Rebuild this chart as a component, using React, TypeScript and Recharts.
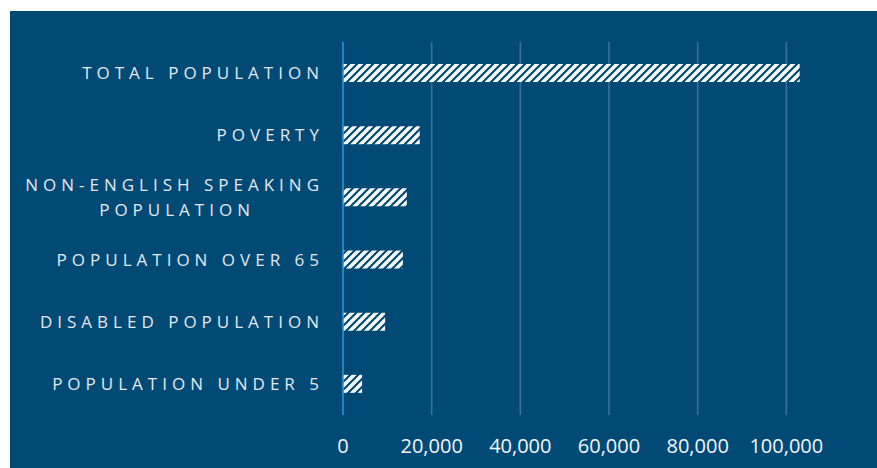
import { BarChart, Bar, XAxis, YAxis, CartesianGrid } from "recharts";

const categories = [
  "TOTAL POPULATION",
  "POVERTY",
  "NON-ENGLISH SPEAKING\nPOPULATION",
  "POPULATION OVER 65",
  "DISABLED POPULATION",
  "POPULATION UNDER 5",
];
const counts = [103000, 17300, 14400, 13500, 9500, 4300];
const xTicks = [0, 20000, 40000, 60000, 80000, 100000];
const xMax = 120000;

const data = categories.map((name, i) => ({ name, count: counts[i] }));

const PANEL = "#004a75";
const LABEL_FONT = "'Open Sans', sans-serif";
const LABEL_SIZE = 17;
const SPACING = 5;

let ctx: CanvasRenderingContext2D | null = null;
function textWidth(s: string) {
  if (!ctx) ctx = document.createElement("canvas").getContext("2d");
  if (!ctx) return s.length * 10;
  ctx.font = `${LABEL_SIZE}px ${LABEL_FONT}`;
  return ctx.measureText(s).width + SPACING * (s.length - 1);
}

function CategoryTick({ x, y, payload }: any) {
  const lines = String(payload.value).split("\n");
  const lineGap = 25;
  const right = x + 3;
  const firstW = textWidth(lines[0]);
  return (
    <g>
      {lines.map((line, i) => {
        const ly = y - ((lines.length - 1) * lineGap) / 2 + i * lineGap;
        const centered = i > 0;
        return (
          <text
            key={i}
            x={centered ? right - firstW / 2 : right}
            y={ly}
            dy="0.35em"
            textAnchor={centered ? "middle" : "end"}
            fill="#e4e8ee"
            fontFamily={LABEL_FONT}
            fontSize={LABEL_SIZE}
            letterSpacing={SPACING}
          >
            {line}
          </text>
        );
      })}
    </g>
  );
}

// vertical grid only at the labelled ticks (no line at the axis max)
function gridX({ xAxis, offset }: any) {
  const scale = xAxis && typeof xAxis.scale === "function" ? xAxis.scale : null;
  return xTicks.slice(1).map((t) =>
    scale ? scale(t) : offset.left + (t / xMax) * offset.width
  );
}

export default function App() {
  return (
    <div style={{ position: "absolute", left: 0, top: 0, width: 877, height: 468, background: "#fff" }}>
      <svg width={0} height={0} style={{ position: "absolute" }}>
        <defs>
          <pattern id="hatch" patternUnits="userSpaceOnUse" width={8} height={8}>
            <rect width={8} height={8} fill="#ffffff" />
            <path d="M-2,2 L2,-2 M0,8 L8,0 M6,10 L10,6" stroke={PANEL} strokeWidth={2.2} />
          </pattern>
        </defs>
      </svg>
      <div style={{ position: "absolute", left: 10, top: 11, width: 867, height: 457, background: PANEL }}>
        <BarChart
          width={867}
          height={457}
          data={data}
          layout="vertical"
          margin={{ top: 31, right: 2, left: 0, bottom: 0 }}
        >
          <CartesianGrid
            horizontal={false}
            stroke="#3d7097"
            strokeWidth={1.6}
            verticalCoordinatesGenerator={gridX}
          />
          <XAxis
            type="number"
            domain={[0, xMax]}
            ticks={xTicks}
            height={53}
            axisLine={false}
            tickLine={false}
            tickMargin={18}
            tickFormatter={(v: number) => v.toLocaleString("en-US")}
            tick={{ fill: "#f4f6f8", fontSize: 20, fontFamily: LABEL_FONT }}
          />
          <YAxis
            type="category"
            dataKey="name"
            width={333}
            axisLine={{ stroke: "#2a98e0", strokeWidth: 1.5 }}
            tickLine={false}
            tickMargin={16}
            tick={<CategoryTick />}
            interval={0}
          />
          <Bar dataKey="count" fill="url(#hatch)" barSize={18} isAnimationActive={false} />
        </BarChart>
      </div>
    </div>
  );
}
